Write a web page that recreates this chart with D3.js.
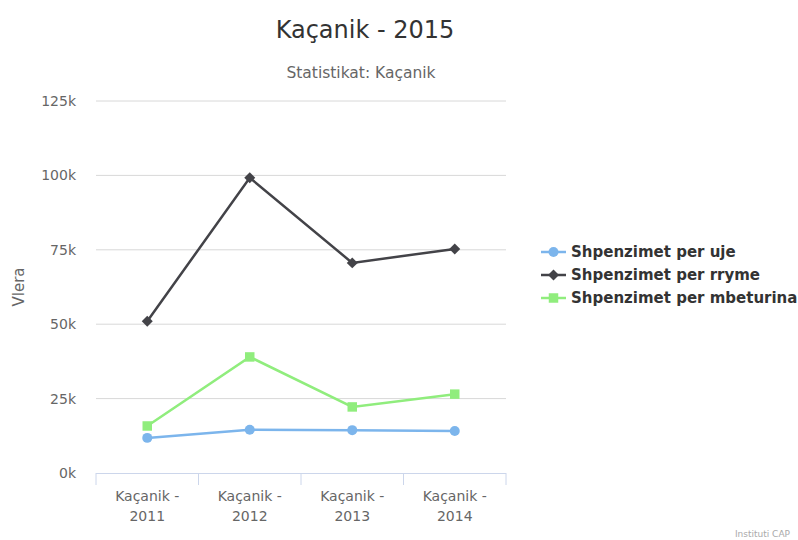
<!DOCTYPE html>
<html>
<head>
<meta charset="utf-8">
<script src="https://cdn.jsdelivr.net/npm/d3@7"></script>
<style>
  body { margin: 0; background: #fff; }
  svg { font-family: "DejaVu Sans", sans-serif; }
</style>
</head>
<body>
<svg width="798" height="540"></svg>
<script>
// data
const categories = ["Kaçanik - 2011", "Kaçanik - 2012", "Kaçanik - 2013", "Kaçanik - 2014"];
const seriesNames = ["Shpenzimet per uje", "Shpenzimet per rryme", "Shpenzimet per mbeturina"];
const ujeValues = [11800, 14500, 14400, 14100];
const rrymeValues = [51000, 99200, 70600, 75300];
const mbeturinaValues = [15800, 39000, 22200, 26500];
const yTicks = [0, 25000, 50000, 75000, 100000, 125000];

const colors = ["#7cb5ec", "#434348", "#90ed7d"];
const allSeries = [ujeValues, rrymeValues, mbeturinaValues];

// diamond like highcharts (square turned 45deg)
const diamond = {
  draw(ctx, size) {
    const r = Math.sqrt(size / 2);
    ctx.moveTo(0, -r);
    ctx.lineTo(r, 0);
    ctx.lineTo(0, r);
    ctx.lineTo(-r, 0);
    ctx.closePath();
  },
};
const symbols = [d3.symbolCircle, diamond, d3.symbolSquare];
const symSizes = [78, 60, 90];

let svg = d3.select("svg"),
  width = +svg.attr("width"),
  height = +svg.attr("height");

const plot = { left: 96, right: 506, top: 101, bottom: 473 };

// scales
const x = d3.scaleBand().domain(categories).range([plot.left, plot.right]);
const y = d3.scaleLinear().domain([0, 125000]).range([plot.bottom, plot.top]);

// titles
svg.append("text")
  .attr("x", 365).attr("y", 38)
  .attr("text-anchor", "middle")
  .style("font-size", "24px").style("fill", "#333")
  .text("Kaçanik - 2015");

svg.append("text")
  .attr("x", 361).attr("y", 78)
  .attr("text-anchor", "middle")
  .style("font-size", "15.5px").style("fill", "#666")
  .text("Statistikat: Kaçanik");

// grid lines + y labels
const grid = svg.append("g");
yTicks.forEach((t) => {
  if (t > 0) {
    grid.append("line")
      .attr("x1", plot.left).attr("x2", plot.right)
      .attr("y1", y(t)).attr("y2", y(t))
      .attr("stroke", "#d8d8d8").attr("stroke-width", 1);
  }
  grid.append("text")
    .attr("x", 76).attr("y", y(t) + 5)
    .attr("text-anchor", "end")
    .style("font-size", "14px").style("fill", "#666")
    .text(t / 1000 + "k");
});

// y axis title
svg.append("text")
  .attr("transform", "translate(24," + 287 + ") rotate(-90)")
  .attr("text-anchor", "middle")
  .style("font-size", "15px").style("fill", "#666")
  .text("Vlera");

// x axis
const xAxis = svg.append("g");
xAxis.append("line")
  .attr("x1", plot.left).attr("x2", plot.right)
  .attr("y1", plot.bottom + 0.5).attr("y2", plot.bottom + 0.5)
  .attr("stroke", "#ccd6eb");
categories.concat([null]).forEach((c) => {
  const px = c ? x(c) : plot.right;
  xAxis.append("line")
    .attr("x1", px).attr("x2", px)
    .attr("y1", plot.bottom).attr("y2", plot.bottom + 12)
    .attr("stroke", "#ccd6eb");
});
categories.forEach((c) => {
  const parts = c.split(" - ");
  const cx = x(c) + x.bandwidth() / 2;
  const t = xAxis.append("text")
    .attr("x", cx)
    .attr("y", plot.bottom + 28)
    .attr("text-anchor", "middle")
    .style("font-size", "14px").style("fill", "#666");
  t.append("tspan").attr("x", cx).text(parts[0] + " -");
  t.append("tspan").attr("x", cx).attr("dy", 20).text(parts[1]);
});

// lines + markers
const line = d3.line()
  .x((d, i) => x(categories[i]) + x.bandwidth() / 2)
  .y((d) => y(d));

allSeries.forEach((vals, s) => {
  svg.append("path")
    .datum(vals)
    .attr("d", line)
    .attr("fill", "none")
    .attr("stroke", colors[s])
    .attr("stroke-width", 2.5);
  svg.append("g")
    .selectAll("path")
    .data(vals)
    .enter()
    .append("path")
    .attr("transform", (d, i) => "translate(" + (x(categories[i]) + x.bandwidth() / 2) + "," + y(d) + ")")
    .attr("d", d3.symbol().type(symbols[s]).size(symSizes[s]))
    .attr("fill", colors[s]);
});

// legend
const legend = svg.append("g");
seriesNames.forEach((name, i) => {
  const ly = 252 + i * 23;
  legend.append("line")
    .attr("x1", 541).attr("x2", 566)
    .attr("y1", ly).attr("y2", ly)
    .attr("stroke", colors[i]).attr("stroke-width", 2.5);
  legend.append("path")
    .attr("transform", "translate(553.5," + ly + ")")
    .attr("d", d3.symbol().type(symbols[i]).size(symSizes[i]))
    .attr("fill", colors[i]);
  legend.append("text")
    .attr("x", 571).attr("y", ly + 5)
    .style("font-size", "15px").style("font-weight", "bold").style("fill", "#333")
    .text(name);
});

// credits
svg.append("text")
  .attr("x", 790).attr("y", 537)
  .attr("text-anchor", "end")
  .style("font-size", "9px").style("fill", "#aaa")
  .text("Instituti CAP");
</script>
</body>
</html>
